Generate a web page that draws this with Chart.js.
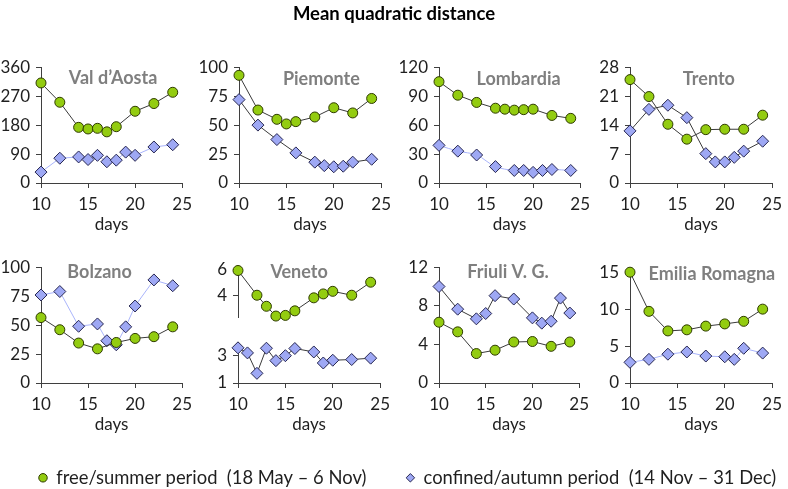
<!DOCTYPE html>
<html>
<head>
<meta charset="utf-8">
<script src="https://cdn.jsdelivr.net/npm/chart.js@4.4.1/dist/chart.umd.min.js"></script>
<style>
  html, body { margin: 0; padding: 0; background: #fff; }
  #wrap { position: relative; width: 788px; height: 489px; overflow: hidden; }
  #wrap canvas { position: absolute; }
</style>
</head>
<body>
<div id="wrap">
  <canvas id="titleChart" width="788" height="40" style="left:0;top:0"></canvas>
  <canvas id="legendChart" width="880" height="497" style="left:0;top:0"></canvas>
</div>
<script>
// common x axis (days)
const dayTicks = [10, 15, 20, 25];
const legendLabels = ["free/summer period  (18 May \u2013 6 Nov)", "confined/autumn period  (14 Nov \u2013 31 Dec)"];

// A = free/summer, B = confined/autumn
const aostaDaysA = [10, 12, 14, 15, 16, 17, 18, 20, 22, 24];
const aostaA     = [311, 251, 173, 168, 170, 159, 175, 223, 247, 282];
const aostaDaysB = [10, 12, 14, 15, 16, 17, 18, 19, 20, 22, 24];
const aostaB     = [34, 77, 81, 73, 86, 66, 71, 96, 86, 112, 119];
const aostaTicks = [0, 90, 180, 270, 360];

const piemDaysA = [10, 12, 14, 15, 16, 18, 20, 22, 24];
const piemA     = [93, 63, 55, 51, 53, 57, 65, 60.5, 73];
const piemDaysB = [10, 12, 14, 16, 18, 19, 20, 21, 22, 24];
const piemB     = [72, 50, 37.5, 26, 18, 15, 14, 14.5, 18, 20.5];
const piemTicks = [0, 25, 50, 75, 100];

const lombDaysA = [10, 12, 14, 16, 17, 18, 19, 20, 22, 24];
const lombA     = [105, 91, 83.5, 77.5, 76.5, 75.5, 76, 76.5, 70, 67];
const lombDaysB = [10, 12, 14, 16, 18, 19, 20, 21, 22, 24];
const lombB     = [39, 33, 29, 17, 13, 13, 11, 13, 14, 13];
const lombTicks = [0, 30, 60, 90, 120];

const trentoDaysA = [10, 12, 14, 16, 18, 20, 22, 24];
const trentoA     = [25, 20.9, 14.2, 10.6, 12.9, 13, 13, 16.4];
const trentoDaysB = [10, 12, 14, 16, 18, 19, 20, 21, 22, 24];
const trentoB     = [12.6, 17.8, 18.8, 15.8, 7.1, 5.1, 5.1, 6.2, 7.7, 10.1];
const trentoTicks = [0, 7, 14, 21, 28];

const bolzDaysA = [10, 12, 14, 16, 18, 20, 22, 24];
const bolzA     = [56.5, 46, 34.5, 29.5, 35, 38.5, 40, 48.5];
const bolzDaysB = [10, 12, 14, 16, 17, 18, 19, 20, 22, 24];
const bolzB     = [76, 79, 49, 51, 36.5, 33, 48.5, 66.5, 89, 84];
const bolzTicks = [0, 25, 50, 75, 100];

// Veneto has a broken y axis: upper part for A, lower part for B
const venetoDaysA = [10, 12, 13, 14, 15, 16, 18, 19, 20, 22, 24];
const venetoA     = [5.9, 4.0, 3.15, 2.4, 2.45, 2.8, 3.8, 4.1, 4.3, 4.0, 5.0];
const venetoDaysB = [10, 11, 12, 13, 14, 15, 16, 18, 19, 20, 22, 24];
const venetoB     = [3.55, 3.18, 1.7, 3.52, 2.62, 2.98, 3.5, 3.25, 2.45, 2.65, 2.7, 2.8];
const venetoTicksTop = [4, 6];
const venetoTicksBottom = [1, 3];
const venetoRangeTop = [2.25, 6];
const venetoRangeBottom = [1, 3.9];

const friuliDaysA = [10, 12, 14, 16, 18, 20, 22, 24];
const friuliA     = [6.3, 5.3, 3.05, 3.4, 4.25, 4.3, 3.8, 4.25];
const friuliDaysB = [10, 12, 14, 15, 16, 18, 20, 21, 22, 23, 24];
const friuliB     = [10, 7.65, 6.65, 7.2, 9.05, 8.7, 6.75, 6.2, 6.4, 8.8, 7.25];
const friuliTicks = [0, 4, 8, 12];

const emiliaDaysA = [10, 12, 14, 16, 18, 20, 22, 24];
const emiliaA     = [15, 9.7, 7.05, 7.2, 7.7, 8.0, 8.35, 10];
const emiliaDaysB = [10, 12, 14, 16, 18, 20, 21, 22, 24];
const emiliaB     = [2.8, 3.2, 3.9, 4.2, 3.65, 3.55, 3.2, 4.7, 4.05];
const emiliaTicks = [0, 5, 10, 15];

// styles
const FONT = "Lato";
const axisColor = "#3f3f3f";
const textColor = "#1f1f1f";
const greenFill = "#93cc10";
const greenEdge = "#2e3a00";
const blueFill = "#9ea8f4";
const blueEdge = "#262650";
const darkLine = "#3a3a3a";
const lightLine = "#a9b4fb";

Chart.defaults.font.family = FONT;
Chart.defaults.color = textColor;

const pts = (xs, ys) => xs.map((x, i) => ({ x: x, y: ys[i] }));

// panel name drawn inside the plot area
const panelTitle = {
    id: "panelTitle",
    afterDatasetsDraw(chart, args, opts) {
        const { ctx, chartArea } = chart;
        ctx.save();
        ctx.font = "bold 18px " + FONT;
        ctx.fillStyle = "#7f7f7f";
        ctx.textAlign = "center";
        ctx.textBaseline = "alphabetic";
        ctx.fillText(opts.text, (chartArea.left + chartArea.right) / 2 + opts.dx, chartArea.top + opts.dy);
        ctx.restore();
    }
};

// plot areas in page pixels: [left, right, top, bottom]
const panels = [
    { name: "Val d\u2019Aosta", dA: aostaDaysA, a: aostaA, dB: aostaDaysB, b: aostaB, ticks: aostaTicks, line: lightLine, area: [40.7, 184, 65, 183.3], dx: 1.5, dy: 16.7 },
    { name: "Piemonte", dA: piemDaysA, a: piemA, dB: piemDaysB, b: piemB, ticks: piemTicks, line: darkLine, area: [239, 382.7, 65, 183.3], dx: 11.3, dy: 17.7 },
    { name: "Lombardia", dA: lombDaysA, a: lombA, dB: lombDaysB, b: lombB, ticks: lombTicks, line: lightLine, area: [438.7, 581.7, 65, 183.3], dx: 9, dy: 17.7, smooth: true },
    { name: "Trento", dA: trentoDaysA, a: trentoA, dB: trentoDaysB, b: trentoB, ticks: trentoTicks, line: darkLine, area: [629.7, 773.7, 65, 183.3], dx: 7.8, dy: 17.7 },
    { name: "Bolzano", dA: bolzDaysA, a: bolzA, dB: bolzDaysB, b: bolzB, ticks: bolzTicks, line: lightLine, area: [40.7, 184.3, 265, 383.3], dx: -12, dy: 10.7 },
    { name: "Veneto", dA: venetoDaysA, a: venetoA, dB: venetoDaysB, b: venetoB, broken: true, line: darkLine, area: [238.3, 381.7, 266.7, 383.3], dx: -10, dy: 9 },
    { name: "Friuli V. G.", dA: friuliDaysA, a: friuliA, dB: friuliDaysB, b: friuliB, ticks: friuliTicks, line: darkLine, area: [438.7, 581, 265, 383.3], dx: -1, dy: 10.7 },
    { name: "Emilia Romagna", dA: emiliaDaysA, a: emiliaA, dB: emiliaDaysB, b: emiliaB, ticks: emiliaTicks, line: lightLine, area: [630, 774, 270, 383.3], dx: 10.8, dy: 7.3 }
];

const YW = 46, PT = 14, PR = 14, XH = 52, PB = 0;

function yAxis(ticks, min, max, extra) {
    return Object.assign({
        type: "linear",
        position: "left",
        min: min,
        max: max,
        afterBuildTicks: s => { s.ticks = ticks.map(v => ({ value: v })); },
        afterFit: s => { s.width = YW; },
        border: { display: true, color: axisColor, width: 1 },
        grid: { drawOnChartArea: false, drawTicks: true, tickLength: 5, color: axisColor },
        ticks: { padding: 6, autoSkip: false, font: { size: 17 }, color: textColor }
    }, extra || {});
}

function makePanel(p) {
    const cv = document.createElement("canvas");
    const left = Math.round(p.area[0] - YW);
    const top = Math.round(p.area[2] - PT);
    const width = Math.round(p.area[1] + PR) - left;
    const height = Math.round(p.area[3] + XH + PB) - top;
    cv.width = width;
    cv.height = height;
    cv.style.left = left + "px";
    cv.style.top = top + "px";
    document.getElementById("wrap").appendChild(cv);

    let scales = {
        x: {
            type: "linear",
            min: dayTicks[0],
            max: dayTicks[dayTicks.length - 1],
            afterBuildTicks: s => { s.ticks = dayTicks.map(v => ({ value: v })); },
            afterFit: s => { s.height = XH; },
            border: { display: true, color: axisColor, width: 1 },
            grid: { drawOnChartArea: false, drawTicks: true, tickLength: 5, color: axisColor },
            ticks: { padding: 6, autoSkip: false, maxRotation: 0, font: { size: 17 }, color: textColor },
            title: { display: true, text: "days", font: { size: 17 }, color: textColor, padding: { top: 0, bottom: 0 } }
        }
    };
    let axisA = "y", axisB = "y";
    if (p.broken) {
        scales.y = yAxis(venetoTicksTop, venetoRangeTop[0], venetoRangeTop[1], { stack: "v", stackWeight: 50, weight: 3 });
        scales.ygap = { type: "linear", position: "left", display: false, stack: "v", stackWeight: 25.6, weight: 2 };
        scales.y2 = yAxis(venetoTicksBottom, venetoRangeBottom[0], venetoRangeBottom[1], { stack: "v", stackWeight: 41, weight: 1 });
        axisB = "y2";
    } else {
        scales.y = yAxis(p.ticks, p.ticks[0], p.ticks[p.ticks.length - 1]);
    }

    new Chart(cv, {
        type: "line",
        data: {
            datasets: [
                {
                    label: legendLabels[0],
                    data: pts(p.dA, p.a),
                    yAxisID: axisA,
                    borderColor: darkLine,
                    borderWidth: 1,
                    pointStyle: "circle",
                    pointRadius: 5,
                    pointBackgroundColor: greenFill,
                    pointBorderColor: greenEdge,
                    pointBorderWidth: 1,
                    clip: false
                },
                {
                    label: legendLabels[1],
                    data: pts(p.dB, p.b),
                    yAxisID: axisB,
                    borderColor: p.line,
                    borderWidth: 1,
                    tension: p.smooth ? 0.35 : 0,
                    pointStyle: "rectRot",
                    pointRadius: 6,
                    pointBackgroundColor: blueFill,
                    pointBorderColor: blueEdge,
                    pointBorderWidth: 1,
                    clip: false
                }
            ]
        },
        options: {
            responsive: false,
            animation: false,
            layout: { padding: { top: PT, right: PR, bottom: PB, left: 0 } },
            scales: scales,
            plugins: {
                legend: { display: false },
                tooltip: { enabled: false },
                panelTitle: { text: p.name, dx: p.dx, dy: p.dy }
            }
        },
        plugins: [panelTitle]
    });
}

const hidden = { x: { display: false }, y: { display: false } };

// page title
new Chart(document.getElementById("titleChart"), {
    type: "line",
    data: { datasets: [] },
    options: {
        responsive: false,
        animation: false,
        scales: hidden,
        plugins: {
            title: { display: true, text: "Mean quadratic distance", color: "#000", font: { size: 18.5, weight: "bold" }, padding: { top: 3, bottom: 0 } },
            legend: { display: false },
            tooltip: { enabled: false }
        }
    }
});

// shared legend (canvas wider than the page so both items stay on one row)
new Chart(document.getElementById("legendChart"), {
    type: "line",
    data: {
        datasets: [
            { label: legendLabels[0], data: [], pointStyle: "circle", backgroundColor: greenFill, borderColor: greenEdge,
              pointBackgroundColor: greenFill, pointBorderColor: greenEdge, pointBorderWidth: 1, borderWidth: 1 },
            { label: legendLabels[1], data: [], pointStyle: "rectRot", backgroundColor: blueFill, borderColor: blueEdge,
              pointBackgroundColor: blueFill, pointBorderColor: blueEdge, pointBorderWidth: 1, borderWidth: 1 }
        ]
    },
    options: {
        responsive: false,
        animation: false,
        layout: { padding: { left: -1, bottom: 0 } },
        scales: hidden,
        plugins: {
            legend: {
                position: "bottom",
                align: "start",
                labels: { usePointStyle: true, boxWidth: 8, boxHeight: 6, padding: 40, font: { size: 18.4 }, color: textColor }
            },
            tooltip: { enabled: false }
        }
    }
});

panels.forEach(makePanel);
</script>
</body>
</html>
